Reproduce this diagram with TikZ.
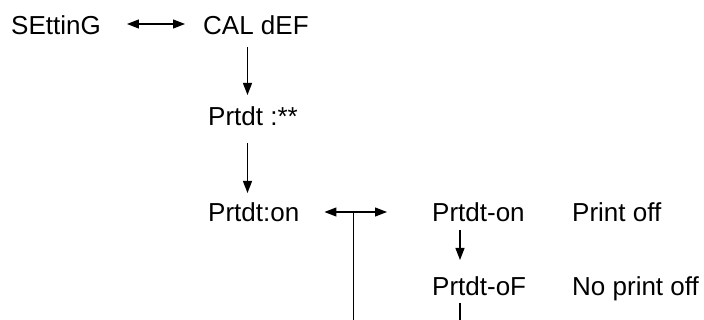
\documentclass[tikz,border=0pt]{standalone}
\usepackage{fontspec}
\setmainfont{Liberation Sans}
\usetikzlibrary{arrows.meta,calc}
\begin{document}
\begin{tikzpicture}[x=1pt,y=-1pt,
  lbl/.style={anchor=base west,inner sep=0pt,font=\fontsize{26}{30}\selectfont},
  con/.style={line width=1.2pt},
  tip/.style={-{Triangle[length=12pt,width=9pt]}},
  dtip/.style={{Triangle[length=12pt,width=9pt]}-{Triangle[length=12pt,width=9pt]}}]
\useasboundingbox (0,0) rectangle (704,320);
\coordinate (bot) at (0,320);
\node[lbl] (set) at (11,35) {SEttinG};
\node[lbl] (cal) at (203,35) {CAL dEF};
\node[lbl] (pst) at (208,126) {Prtdt :**};
\node[lbl] (pon) at (208,222) {Prtdt:on};
\node[lbl] (ponn) at (432,222) {Prtdt-on};
\node[lbl] (poff) at (572,222) {Print off};
\node[lbl] (pof) at (432,295) {Prtdt-oF};
\node[lbl] (npoff) at (572,295) {No print off};
% connectors
\draw[con,dtip] ($(set.base east)+(26,-11)$) -- ($(cal.base west)+(-18,-11)$);
\draw[con,tip] ($(cal.base west)+(44.5,12)$) -- ($(pst.base west)+(39.5,-31)$);
\draw[con,tip] ($(pst.base west)+(39.5,17)$) -- ($(pon.base west)+(39.5,-29)$);
\draw[con,dtip] ($(pon.base east)+(25,-10)$) -- ($(ponn.base west)+(-45,-10)$);
\coordinate (j) at ($(pon.base east)+(54,-10)$);
\draw[con] (j) -- (j |- bot);
\draw[con,tip] ($(ponn.base west)+(28,8)$) -- ($(pof.base west)+(28,-35)$);
\coordinate (k) at ($(pof.base west)+(28,8)$);
\draw[con] (k) -- (k |- bot);
\end{tikzpicture}
\end{document}
